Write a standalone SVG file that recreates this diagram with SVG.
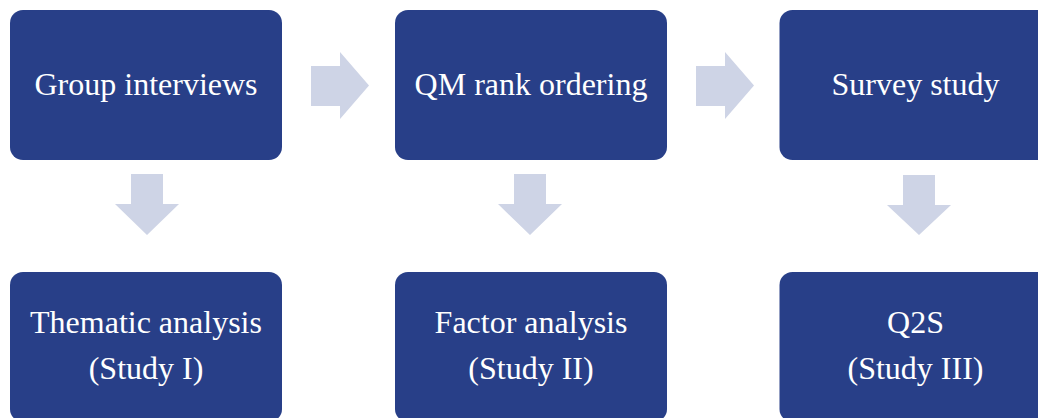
<svg xmlns="http://www.w3.org/2000/svg" width="1038" height="418" viewBox="0 0 1038 418">
<style>
.box{fill:#283F88;}
.arr{fill:#CED4E6;}
.t{font-family:"Liberation Serif","Times New Roman",serif;font-size:32px;fill:#FFFFFF;text-anchor:middle;}
</style>
<rect width="1038" height="418" fill="#FFFFFF"/>
<g id="connectors">
<polygon class="arr" points="311,66 340,66 340,52 369,85.5 340,119 340,106 311,106"/>
<polygon class="arr" points="696,66 725,66 725,52 754,85.5 725,119 725,106 696,106"/>
<polygon class="arr" points="131,174 163,174 163,204 179,204 147,235 115,204 131,204"/>
<polygon class="arr" points="514,174 546,174 546,204 562,204 530,235 498,204 514,204"/>
<polygon class="arr" points="903,175 935,175 935,205 951,205 919,235 887,205 903,205"/>
</g>
<g id="group-interviews">
<rect class="box" x="10" y="10" width="272" height="150" rx="13"/>
<text class="t" x="146" y="95">Group interviews</text>
</g>
<g id="qm-rank-ordering">
<rect class="box" x="395" y="10" width="272" height="150" rx="13"/>
<text class="t" x="531" y="95">QM rank ordering</text>
</g>
<g id="survey-study">
<rect class="box" x="779.5" y="10" width="272" height="150" rx="13"/>
<text class="t" x="915.5" y="95">Survey study</text>
</g>
<g id="thematic-analysis">
<rect class="box" x="10" y="272" width="272" height="150" rx="13"/>
<text class="t" x="146" y="333">Thematic analysis</text>
<text class="t" x="146" y="378.5">(Study I)</text>
</g>
<g id="factor-analysis">
<rect class="box" x="395" y="272" width="272" height="150" rx="13"/>
<text class="t" x="531" y="333">Factor analysis</text>
<text class="t" x="531" y="378.5">(Study II)</text>
</g>
<g id="q2s">
<rect class="box" x="779.5" y="272" width="272" height="150" rx="13"/>
<text class="t" x="915.5" y="333">Q2S</text>
<text class="t" x="915.5" y="378.5">(Study III)</text>
</g>
</svg>
